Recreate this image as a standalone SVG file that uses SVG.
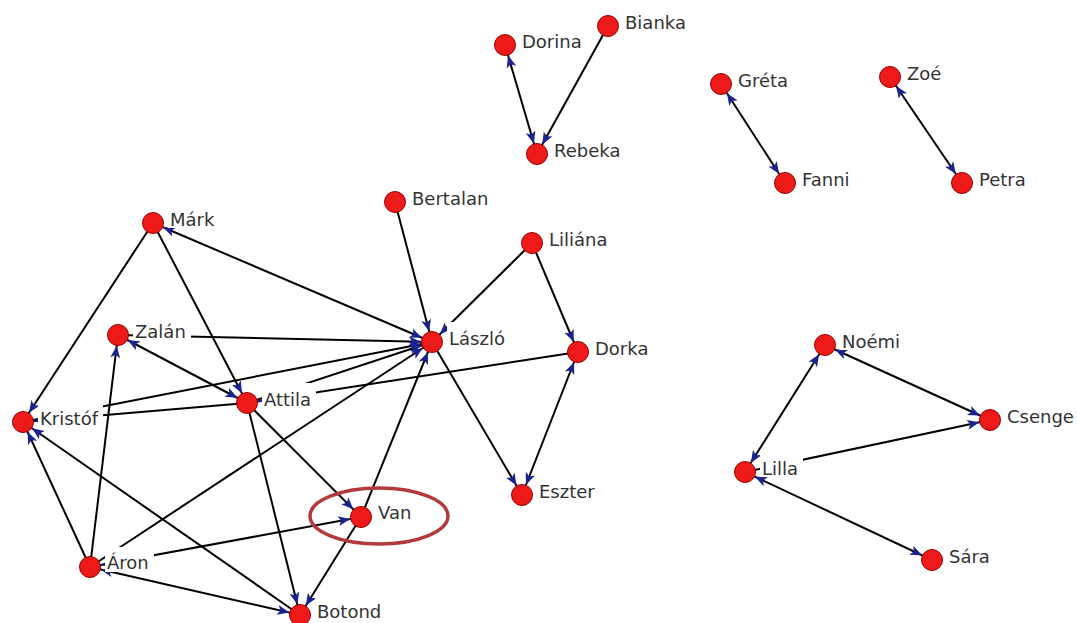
<svg xmlns="http://www.w3.org/2000/svg" width="1077" height="623" viewBox="0 0 1077 623">
<style>
.e{stroke:#000;stroke-width:2;fill:none}
.d{marker-end:url(#ah)}
.b{marker-start:url(#ah);marker-end:url(#ah)}
.n{fill:#ee1a1a;stroke:#980000;stroke-width:1}
.bg{fill:#fff}
.t{font-family:"DejaVu Sans","Liberation Sans",sans-serif;font-size:18px;fill:#333}
</style>
<defs>
<marker id="ah" markerUnits="userSpaceOnUse" markerWidth="13" markerHeight="11" refX="23" refY="5" orient="auto-start-reverse" overflow="visible">
<path d="M0,0 L12,5 L0,10 L3,5 z" fill="#1a2290"/>
</marker>
</defs>
<rect width="1077" height="623" fill="#fff"/>
<g id="connectors">
<line class="e b" x1="505" y1="45" x2="537" y2="154"/>
<line class="e d" x1="608" y1="26" x2="537" y2="154"/>
<line class="e b" x1="721" y1="84" x2="785" y2="183"/>
<line class="e b" x1="890" y1="77" x2="962" y2="183"/>
<line class="e b" x1="825" y1="345" x2="745" y2="472"/>
<line class="e b" x1="825" y1="345" x2="990" y2="420"/>
<line class="e d" x1="745" y1="472" x2="990" y2="420"/>
<line class="e b" x1="932" y1="560" x2="745" y2="472"/>
<line class="e d" x1="153" y1="223" x2="23" y2="422"/>
<line class="e d" x1="153" y1="223" x2="247" y2="403"/>
<line class="e b" x1="153" y1="223" x2="432" y2="342"/>
<line class="e d" x1="118" y1="335" x2="432" y2="342"/>
<line class="e b" x1="247" y1="403" x2="118" y2="335"/>
<line class="e d" x1="23" y1="422" x2="432" y2="342"/>
<line class="e d" x1="247" y1="403" x2="23" y2="422"/>
<line class="e d" x1="247" y1="403" x2="432" y2="342"/>
<line class="e d" x1="578" y1="352" x2="247" y2="403"/>
<line class="e d" x1="247" y1="403" x2="361" y2="517"/>
<line class="e d" x1="247" y1="403" x2="300" y2="615"/>
<line class="e d" x1="361" y1="517" x2="300" y2="615"/>
<line class="e d" x1="361" y1="517" x2="432" y2="342"/>
<line class="e d" x1="90" y1="567" x2="432" y2="342"/>
<line class="e b" x1="90" y1="567" x2="361" y2="517"/>
<line class="e b" x1="90" y1="567" x2="300" y2="615"/>
<line class="e d" x1="90" y1="567" x2="118" y2="335"/>
<line class="e d" x1="90" y1="567" x2="23" y2="422"/>
<line class="e d" x1="300" y1="615" x2="23" y2="422"/>
<line class="e d" x1="532" y1="243" x2="432" y2="342"/>
<line class="e d" x1="532" y1="243" x2="578" y2="352"/>
<line class="e d" x1="395" y1="202" x2="432" y2="342"/>
<line class="e d" x1="432" y1="342" x2="522" y2="495"/>
<line class="e b" x1="578" y1="352" x2="522" y2="495"/>
</g>
<g id="node-dorina"><circle class="n" cx="505" cy="45" r="10.5"/><rect class="bg" x="520" y="25" width="67" height="25"/><text class="t" x="522" y="48">Dorina</text></g>
<g id="node-bianka"><circle class="n" cx="608" cy="26" r="10.5"/><rect class="bg" x="623" y="6" width="68" height="25"/><text class="t" x="625" y="29">Bianka</text></g>
<g id="node-rebeka"><circle class="n" cx="537" cy="154" r="10.5"/><rect class="bg" x="552" y="134" width="75" height="25"/><text class="t" x="554" y="157">Rebeka</text></g>
<g id="node-greta"><circle class="n" cx="721" cy="84" r="10.5"/><rect class="bg" x="736" y="64" width="58" height="25"/><text class="t" x="738" y="87">Gréta</text></g>
<g id="node-fanni"><circle class="n" cx="785" cy="183" r="10.5"/><rect class="bg" x="800" y="163" width="56" height="25"/><text class="t" x="802" y="186">Fanni</text></g>
<g id="node-zoe"><circle class="n" cx="890" cy="77" r="10.5"/><rect class="bg" x="905" y="57" width="41" height="25"/><text class="t" x="907" y="80">Zoé</text></g>
<g id="node-petra"><circle class="n" cx="962" cy="183" r="10.5"/><rect class="bg" x="977" y="163" width="54" height="25"/><text class="t" x="979" y="186">Petra</text></g>
<g id="node-mark"><circle class="n" cx="153" cy="223" r="10.5"/><rect class="bg" x="168" y="203" width="51" height="25"/><text class="t" x="170" y="226">Márk</text></g>
<g id="node-zalan"><circle class="n" cx="118" cy="335" r="10.5"/><rect class="bg" x="133" y="315" width="58" height="25"/><text class="t" x="135" y="338">Zalán</text></g>
<g id="node-attila"><circle class="n" cx="247" cy="403" r="10.5"/><rect class="bg" x="262" y="383" width="54" height="25"/><text class="t" x="264" y="406">Attila</text></g>
<g id="node-kristof"><circle class="n" cx="23" cy="422" r="10.5"/><rect class="bg" x="38" y="402" width="65" height="25"/><text class="t" x="40" y="425">Kristóf</text></g>
<g id="node-bertalan"><circle class="n" cx="395" cy="202" r="10.5"/><rect class="bg" x="410" y="182" width="83" height="25"/><text class="t" x="412" y="205">Bertalan</text></g>
<g id="node-liliana"><circle class="n" cx="532" cy="243" r="10.5"/><rect class="bg" x="547" y="223" width="65" height="25"/><text class="t" x="549" y="246">Liliána</text></g>
<g id="node-laszlo"><circle class="n" cx="432" cy="342" r="10.5"/><rect class="bg" x="447" y="322" width="63" height="25"/><text class="t" x="449" y="345">László</text></g>
<g id="node-dorka"><circle class="n" cx="578" cy="352" r="10.5"/><rect class="bg" x="593" y="332" width="61" height="25"/><text class="t" x="595" y="355">Dorka</text></g>
<g id="node-eszter"><circle class="n" cx="522" cy="495" r="10.5"/><rect class="bg" x="537" y="475" width="63" height="25"/><text class="t" x="539" y="498">Eszter</text></g>
<g id="node-van"><circle class="n" cx="361" cy="517" r="10.5"/><rect class="bg" x="376" y="497" width="42" height="25"/><text class="t" x="378" y="519">Van</text></g>
<g id="node-aron"><circle class="n" cx="90" cy="567" r="10.5"/><rect class="bg" x="105" y="547" width="49" height="25"/><text class="t" x="107" y="569">Áron</text></g>
<g id="node-botond"><circle class="n" cx="300" cy="615" r="10.5"/><rect class="bg" x="315" y="595" width="71" height="25"/><text class="t" x="317" y="618">Botond</text></g>
<g id="node-noemi"><circle class="n" cx="825" cy="345" r="10.5"/><rect class="bg" x="840" y="325" width="65" height="25"/><text class="t" x="842" y="348">Noémi</text></g>
<g id="node-csenge"><circle class="n" cx="990" cy="420" r="10.5"/><rect class="bg" x="1005" y="400" width="72" height="25"/><text class="t" x="1007" y="423">Csenge</text></g>
<g id="node-lilla"><circle class="n" cx="745" cy="472" r="10.5"/><rect class="bg" x="760" y="452" width="43" height="25"/><text class="t" x="762" y="475">Lilla</text></g>
<g id="node-sara"><circle class="n" cx="932" cy="560" r="10.5"/><rect class="bg" x="947" y="540" width="48" height="25"/><text class="t" x="949" y="563">Sára</text></g>
<ellipse id="highlight" cx="379" cy="516" rx="69" ry="28" fill="none" stroke="#b33a3c" stroke-width="3.5"/>
</svg>
